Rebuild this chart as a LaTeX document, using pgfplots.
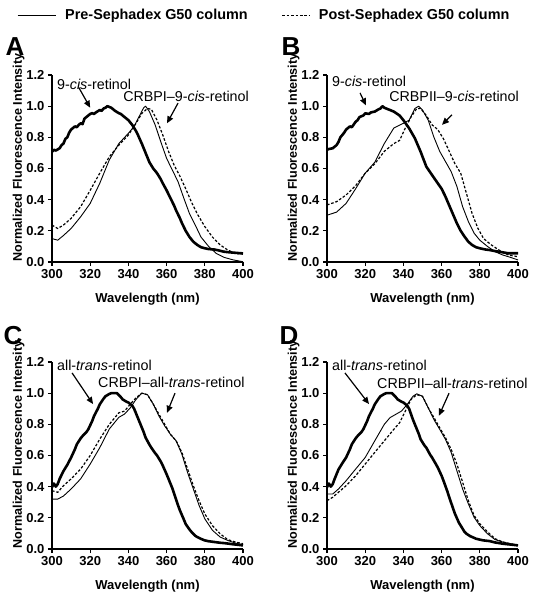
\documentclass[border=0pt]{standalone}
\usepackage{pgfplots}
\pgfplotsset{compat=1.18}
\usepackage{pgfplotstable}
\usetikzlibrary{arrows.meta}
\usepackage{fontspec}
\setmainfont{Liberation Sans}

% Panel A
\pgfplotstableread{
x y
300 0.708
301 0.72
302 0.715
304 0.73
305 0.75
306 0.76
307 0.79
308 0.80
309 0.83
310 0.85
311 0.86
312 0.87
313 0.865
314 0.88
315 0.89
316 0.885
317 0.92
318 0.93
320 0.95
321 0.955
322 0.95
323 0.96
325 0.975
326 0.97
327 0.985
328 0.99
329 1.0
330 0.995
331 0.99
333 0.97
335 0.955
336 0.95
338 0.93
340 0.91
342 0.88
344 0.84
345 0.815
347 0.76
348 0.73
350 0.67
351 0.64
353 0.60
355 0.57
357 0.53
358 0.505
360 0.46
362 0.41
364 0.36
365 0.33
367 0.28
368 0.25
370 0.20
372 0.16
374 0.13
376 0.11
378 0.095
380 0.088
382 0.083
385 0.08
387 0.075
390 0.066
393 0.062
395 0.06
398 0.057
400 0.055
}\Athick
\pgfplotstableread{
x y
300 0.15
303 0.14
306 0.17
310 0.215
315 0.29
320 0.376
325 0.505
330 0.655
335 0.76
340 0.826
343 0.87
346 0.943
348 0.99
349 1.0
351 0.965
354 0.88
357 0.77
360 0.665
363 0.59
366 0.515
369 0.41
372 0.31
375 0.237
378 0.16
382 0.10
386 0.055
390 0.03
395 0.013
400 0.002
}\Athin
\pgfplotstableread{
x y
300 0.237
303 0.215
306 0.237
310 0.28
315 0.355
320 0.46
325 0.57
330 0.675
335 0.75
340 0.815
344 0.89
347 0.953
350 0.985
352 0.98
355 0.91
358 0.815
361 0.71
364 0.62
367 0.55
370 0.47
373 0.385
376 0.31
380 0.227
384 0.16
388 0.11
392 0.077
396 0.055
400 0.05
}\Adash
% Panel B
\pgfplotstableread{
x y
300 0.72
301 0.725
303 0.73
305 0.75
306 0.77
307 0.80
309 0.83
310 0.85
312 0.87
313 0.865
315 0.90
316 0.91
317 0.93
319 0.94
320 0.954
322 0.95
323 0.96
325 0.965
327 0.98
328 0.985
329 1.0
330 0.99
332 0.98
335 0.965
338 0.94
340 0.91
343 0.858
346 0.794
349 0.708
352 0.612
355 0.558
358 0.505
360 0.47
362 0.42
365 0.334
368 0.248
370 0.20
372 0.163
374 0.13
376 0.109
378 0.095
380 0.088
383 0.08
385 0.077
388 0.07
390 0.066
393 0.06
395 0.056
400 0.056
}\Bthick
\pgfplotstableread{
x y
300 0.30
305 0.32
310 0.376
315 0.47
320 0.57
325 0.64
330 0.76
335 0.86
340 0.89
343 0.91
346 0.985
348 1.0
350 0.975
353 0.91
356 0.80
359 0.71
362 0.645
365 0.58
368 0.485
371 0.355
374 0.26
377 0.185
380 0.14
384 0.10
388 0.066
392 0.045
396 0.03
400 0.013
}\Bthin
\pgfplotstableread{
x y
300 0.366
305 0.387
310 0.43
315 0.49
320 0.57
325 0.63
330 0.71
335 0.76
338 0.78
341 0.86
344 0.93
347 0.985
349 0.985
352 0.94
355 0.88
358 0.85
361 0.79
364 0.71
367 0.63
370 0.57
373 0.44
376 0.31
379 0.216
382 0.15
386 0.11
390 0.077
395 0.045
400 0.034
}\Bdash
% Panel C
\pgfplotstableread{
x y
300 0.396
301 0.42
302 0.40
303 0.417
304 0.45
306 0.50
308 0.54
310 0.587
312 0.64
313 0.672
315 0.71
316 0.725
318 0.75
319 0.768
321 0.82
322 0.853
324 0.90
325 0.928
327 0.965
328 0.98
330 0.995
331 1.0
333 1.0
334 1.0
336 0.975
337 0.96
339 0.945
340 0.94
342 0.92
343 0.90
345 0.84
346 0.81
348 0.75
349 0.715
351 0.67
352 0.65
354 0.615
355 0.60
357 0.56
358 0.535
360 0.48
361 0.45
363 0.39
364 0.353
366 0.28
367 0.247
369 0.19
370 0.16
372 0.125
373 0.11
375 0.085
376 0.077
378 0.065
380 0.055
382 0.05
385 0.045
388 0.04
390 0.038
392 0.035
395 0.03
398 0.026
400 0.023
}\Cthick
\pgfplotstableread{
x y
300 0.32
303 0.32
306 0.34
310 0.385
315 0.45
320 0.545
325 0.65
330 0.77
335 0.845
338 0.866
341 0.906
344 0.96
347 1.0
350 0.99
353 0.93
356 0.853
359 0.79
362 0.736
365 0.694
368 0.608
371 0.49
374 0.385
377 0.28
380 0.194
384 0.12
388 0.077
392 0.055
396 0.038
400 0.028
}\Cthin
\pgfplotstableread{
x y
300 0.374
303 0.364
306 0.406
310 0.45
315 0.513
320 0.60
325 0.705
330 0.80
335 0.874
338 0.885
341 0.93
344 0.97
347 1.0
350 0.99
353 0.93
356 0.865
359 0.80
362 0.736
365 0.694
368 0.62
371 0.513
374 0.406
377 0.31
380 0.225
384 0.15
388 0.098
392 0.06
396 0.045
400 0.034
}\Cdash
% Panel D
\pgfplotstableread{
x y
300 0.396
301 0.42
302 0.40
303 0.417
304 0.45
306 0.51
308 0.55
310 0.587
312 0.64
313 0.672
315 0.71
316 0.725
318 0.75
319 0.768
321 0.82
322 0.853
324 0.90
325 0.928
327 0.965
328 0.98
330 0.995
331 1.0
333 1.0
334 1.0
336 0.975
337 0.96
339 0.945
340 0.94
342 0.92
343 0.90
345 0.83
346 0.80
348 0.74
349 0.704
351 0.665
352 0.65
354 0.605
355 0.587
357 0.545
358 0.523
360 0.47
361 0.438
363 0.37
364 0.332
366 0.26
367 0.226
369 0.17
370 0.15
372 0.11
373 0.098
375 0.082
376 0.077
378 0.066
380 0.06
382 0.055
385 0.051
388 0.042
390 0.038
392 0.034
395 0.03
398 0.026
400 0.023
}\Dthick
\pgfplotstableread{
x y
300 0.353
303 0.353
306 0.385
310 0.438
315 0.513
320 0.587
325 0.694
330 0.80
333 0.843
336 0.864
339 0.885
342 0.928
345 0.98
347 0.996
350 0.98
353 0.906
356 0.83
359 0.768
362 0.704
365 0.62
368 0.502
371 0.385
374 0.29
377 0.204
380 0.15
384 0.098
388 0.06
392 0.045
396 0.034
400 0.023
}\Dthin
\pgfplotstableread{
x y
300 0.31
303 0.332
306 0.364
310 0.406
315 0.47
320 0.545
325 0.62
330 0.694
335 0.768
338 0.81
341 0.885
344 0.96
347 0.99
350 0.98
353 0.906
356 0.843
359 0.778
362 0.715
365 0.64
368 0.545
371 0.428
374 0.31
377 0.215
380 0.162
384 0.11
388 0.066
392 0.045
396 0.034
400 0.023
}\Ddash

\pgfplotsset{
  panel/.style={
    scale only axis, width=191pt, height=187pt,
    xmin=300, xmax=400, ymin=0, ymax=1.2,
    axis x line*=bottom, axis y line*=left,
    xtick={300,320,340,360,380,400},
    ytick={0,0.2,0.4,0.6,0.8,1.0,1.2},
    tick align=outside, major tick length=4pt,
    axis line style={line width=1.2pt},
    every tick/.style={line width=1.2pt, black},
    /pgf/number format/assume math mode=true,
    yticklabel style={/pgf/number format/.cd, fixed, fixed zerofill, precision=1, /tikz/.cd, font=\fontsize{13}{13}\selectfont\bfseries},
    xticklabel style={font=\fontsize{13}{13}\selectfont\bfseries},
    xlabel={Wavelength (nm)},
    ylabel={Normalized Fluorescence Intensity},
    xlabel style={at={(rel axis cs:0.5,-0.198)}, anchor=center, font=\fontsize{13}{13}\selectfont\bfseries},
    ylabel style={at={(rel axis cs:-0.175,0.56)}, anchor=center, font=\fontsize{12.6}{12.6}\selectfont\bfseries},
    clip=false,
  },
}
\tikzset{
  thickc/.style={black, line width=2.6pt, line join=round},
  thinc/.style={black, line width=0.9pt, line join=round},
  dashc/.style={black, line width=1.2pt, dash pattern=on 2.6pt off 1.8pt},
  ann/.style={font=\fontsize{14.3}{14.3}\selectfont, inner sep=0pt},
  arr/.style={-{Triangle[length=7pt,width=6pt]}, line width=1.2pt, black},
  letter/.style={font=\fontsize{26}{26}\selectfont\bfseries, inner sep=0pt, anchor=center},
}

\begin{document}
\begin{tikzpicture}
\useasboundingbox (0,0) rectangle (537pt,601pt);
% A
\begin{axis}[panel, at={(52pt,339pt)}, anchor=south west,
  legend style={at={(rel axis cs:-0.183,1.32)}, anchor=west, draw=none, fill=none,
    legend columns=2, font=\fontsize{14.4}{14.4}\selectfont\bfseries, inner sep=0pt,
    nodes={inner sep=0pt},
    /tikz/every odd column/.append style={column sep=9pt},
    /tikz/every even column/.append style={column sep=34pt}},
  legend cell align=left]
\addlegendimage{legend image code/.code={\draw[black, line width=1pt] (0pt,0pt) -- (38pt,0pt);}}
\addlegendentry{Pre-Sephadex G50 column}
\addlegendimage{legend image code/.code={\draw[black, line width=1.2pt, dash pattern=on 2.6pt off 1.8pt] (0pt,0pt) -- (27pt,0pt);}}
\addlegendentry{Post-Sephadex G50 column}
\addplot[dashc, forget plot] table {\Adash};
\addplot[thinc, forget plot] table {\Athin};
\addplot[thickc, forget plot] table {\Athick};
\node[ann, anchor=west] at (axis cs:302.6,1.14) {9-\textit{cis}-retinol};
\draw[arr] (axis cs:314,1.12) -- (axis cs:320,0.99);
\node[ann, anchor=west] at (axis cs:337.2,1.06) {CRBPI–9-\textit{cis}-retinol};
\draw[arr] (axis cs:366,1.02) -- (axis cs:360.2,0.89);
\node[letter] at (rel axis cs:-0.194,1.15) {A};
\end{axis}
% B
\begin{axis}[panel, at={(327pt,339pt)}, anchor=south west]
\addplot[dashc] table {\Bdash};
\addplot[thinc] table {\Bthin};
\addplot[thickc] table {\Bthick};
\node[ann, anchor=west] at (axis cs:302.6,1.16) {9-\textit{cis}-retinol};
\draw[arr] (axis cs:317.3,1.085) -- (axis cs:320.4,1.005);
\node[ann, anchor=west] at (axis cs:332.5,1.065) {CRBPII–9-\textit{cis}-retinol};
\draw[arr] (axis cs:365.4,0.944) -- (axis cs:360.2,0.88);
\node[letter] at (rel axis cs:-0.188,1.15) {B};
\end{axis}
% C
\begin{axis}[panel, at={(52pt,52pt)}, anchor=south west]
\addplot[dashc] table {\Cdash};
\addplot[thinc] table {\Cthin};
\addplot[thickc] table {\Cthick};
\node[ann, anchor=west] at (axis cs:302.6,1.18) {all-\textit{trans}-retinol};
\draw[arr] (axis cs:310.5,1.13) -- (axis cs:321.5,0.93);
\node[ann, anchor=west] at (axis cs:324.1,1.066) {CRBPI–all-\textit{trans}-retinol};
\draw[arr] (axis cs:364.4,1.0) -- (axis cs:360.2,0.874);
\node[letter] at (rel axis cs:-0.204,1.144) {C};
\end{axis}
% D
\begin{axis}[panel, at={(327pt,52pt)}, anchor=south west]
\addplot[dashc] table {\Ddash};
\addplot[thinc] table {\Dthin};
\addplot[thickc] table {\Dthick};
\node[ann, anchor=west] at (axis cs:302.6,1.18) {all-\textit{trans}-retinol};
\draw[arr] (axis cs:309.4,1.13) -- (axis cs:322,0.93);
\node[ann, anchor=west] at (axis cs:326.2,1.06) {CRBPII–all-\textit{trans}-retinol};
\draw[arr] (axis cs:363.9,1.0) -- (axis cs:358.6,0.855);
\node[letter] at (rel axis cs:-0.199,1.144) {D};
\end{axis}
\end{tikzpicture}
\end{document}
